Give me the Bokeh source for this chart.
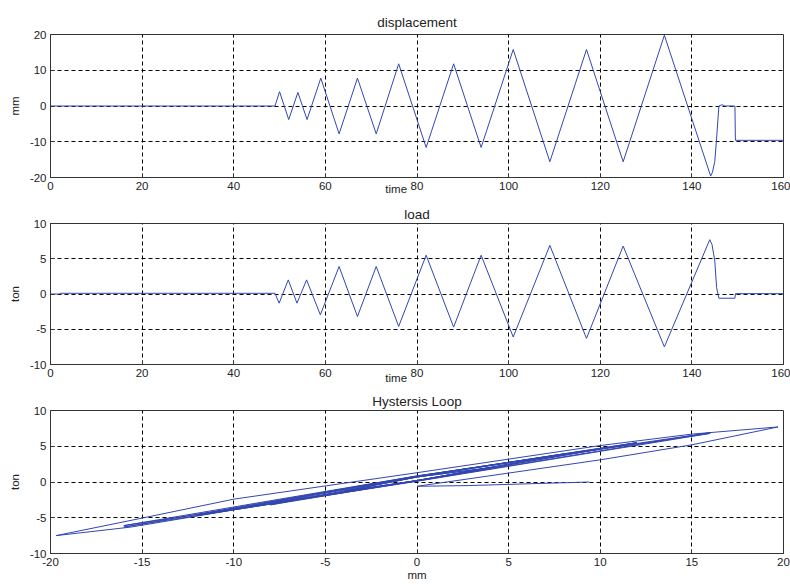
from bokeh.plotting import figure
from bokeh.layouts import column
from bokeh.models import FixedTicker, Range1d, PrintfTickFormatter
from bokeh.embed import file_html
from bokeh.resources import INLINE

# ---------------- data ----------------
disp_time = [0, 49, 50, 52, 54, 56, 59, 63, 67, 71.1, 76, 82, 88, 94, 101, 109, 117, 125, 134,
             144.1, 144.5, 145.0, 145.4, 145.9, 146.6, 147.2, 149.4, 149.5, 160]
disp_mm = [0, 0, 4, -3.8, 3.8, -3.8, 7.8, -7.8, 7.8, -7.8, 11.8, -11.6, 11.8, -11.6, 15.8, -15.6, 15.8, -15.6, 19.8,
           -19.6, -18.5, -15.5, -9.0, 0, 0.35, 0, 0, -9.6, -9.6]

load_time = [0, 2, 2.1, 49, 49.9, 51.9, 53.8, 55.9, 58.9, 63, 67, 71.1, 76, 82, 88, 94, 101, 109, 117, 125, 134,
             143.9, 144.4, 145.0, 145.4, 145.9, 149.4, 149.5, 160]
load_ton = [0, 0, 0.1, 0.1, -1.3, 2.0, -1.3, 2.0, -2.95, 3.9, -3.2, 3.9, -4.6, 5.5, -4.7, 5.5, -6.1, 6.9, -6.3, 6.8, -7.5,
            7.7, 7.0, 4.7, 0.9, -0.6, -0.6, 0.05, 0.05]

hyst_mm = [0, 0, -4, 0, 4, 0, -4, 0, 4, 0, -8, 0, 8, 0, -8, 0, 8, 0, -12, 0, 12, 0, -12, 0, 12, 0,
           -16, 0, 16, 0, -16, 0, 16, 0, -10, -15.6, -19.7,
           -15, -10, 0, 10, 15, 19.7, 15, 10, 0, 2.8, 9.4]
hyst_ton = [0.1, 0.2, -1.3, 0.7, 2.0, 0.2, -1.3, 0.7, 2.0, 0.2, -2.95, 0.7, 3.9, 0.2, -3.2, 0.7, 3.9, 0.2,
            -4.6, 0.8, 5.5, 0.2, -4.7, 0.8, 5.5, 0.15,
            -6.1, 0.85, 6.9, 0.15, -6.3, 0.85, 6.8, 0.1, -3.9, -6.3, -7.5,
            -5.05, -2.4, 1.3, 5.1, 6.7, 7.7, 5.2, 3.1, -0.6, -0.5, 0.0]

time_ticks = [0, 20, 40, 60, 80, 100, 120, 140, 160]
disp_ticks = [-20, -10, 0, 10, 20]
load_ticks = [-10, -5, 0, 5, 10]
hyst_x_ticks = [-20, -15, -10, -5, 0, 5, 10, 15, 20]

LINE = "#3346b0"
FONT = "Liberation Sans"
TXT = "#222222"
NB = "\u00a0"


def styled(title, xr, yr, xt, yt, fh, top, bottom, title_standoff):
    p = figure(frame_width=733, frame_height=fh, min_border_left=50, min_border_right=7,
               min_border_top=top, min_border_bottom=bottom,
               x_range=Range1d(*xr), y_range=Range1d(*yr),
               output_backend="svg", toolbar_location=None)
    p.title.text = title
    p.title.align = "center"
    p.title.text_font = FONT
    p.title.text_font_size = "13.5px"
    p.title.text_font_style = "normal"
    p.title.text_color = TXT
    p.title.standoff = title_standoff
    p.background_fill_color = "white"
    p.border_fill_color = "white"
    p.outline_line_color = "#333333"
    p.outline_line_width = 1
    p.xaxis.ticker = FixedTicker(ticks=xt)
    p.yaxis.ticker = FixedTicker(ticks=yt)
    for ax in (p.xaxis[0], p.yaxis[0]):
        ax.formatter = PrintfTickFormatter(format="%d")
        ax.axis_line_color = "#333333"
        ax.major_tick_in = 4
        ax.major_tick_out = 0
        ax.minor_tick_line_color = None
        ax.major_tick_line_color = "#333333"
        ax.major_label_text_font = FONT
        ax.major_label_text_font_size = "11.5px"
        ax.major_label_text_color = TXT
        ax.axis_label_text_font = FONT
        ax.axis_label_text_font_size = "11.5px"
        ax.axis_label_text_font_style = "normal"
        ax.axis_label_text_color = TXT
        ax.major_label_standoff = 4
        ax.axis_label_standoff = 6
    p.xgrid.grid_line_color = "black"
    p.ygrid.grid_line_color = "black"
    p.xgrid.grid_line_dash = "4 3"
    p.ygrid.grid_line_dash = "4 3"
    p.xgrid.grid_line_width = 1
    p.ygrid.grid_line_width = 1
    return p


# MATLAB placed the "time" label left of centre, overlapping the tick row;
# trailing no-break spaces shift the centred label to the same spot.
time_label = "time" + NB * 13

p1 = styled("displacement", (0, 160), (-20, 20), time_ticks, disp_ticks, 143, 34, 23, 10)
p1.yaxis.axis_label = "mm"
p1.xaxis.axis_label = time_label
p1.xaxis.axis_label_standoff = -10
p1.line(disp_time, disp_mm, line_color=LINE, line_width=1)

p2 = styled("load", (0, 160), (-10, 10), time_ticks, load_ticks, 141, 23, 23, 4)
p2.yaxis.axis_label = "ton"
p2.xaxis.axis_label = time_label
p2.xaxis.axis_label_standoff = -8
p2.line(load_time, load_ton, line_color=LINE, line_width=1)

p3 = styled("Hystersis Loop", (-20, 20), (-10, 10), hyst_x_ticks, load_ticks, 143, 23, 31, 4)
p3.yaxis.axis_label = "ton"
p3.xaxis.axis_label = "mm"
p3.xaxis.axis_label_standoff = 0
p3.line(hyst_mm, hyst_ton, line_color=LINE, line_width=1)

layout = column(p1, p2, p3, spacing=0)
open("out.html", "w").write(file_html(layout, INLINE))
